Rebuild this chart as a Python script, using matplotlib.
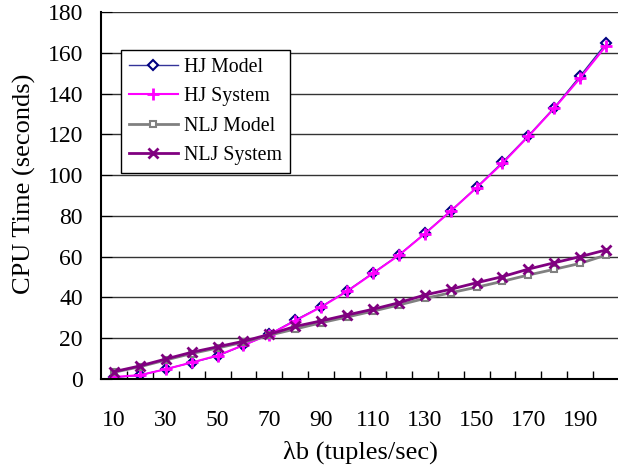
import matplotlib.pyplot as plt
import numpy as np

plt.rcParams['font.family'] = ['Liberation Serif', 'DejaVu Serif']

rate = [10, 20, 30, 40, 50, 60, 70, 80, 90, 100,
        110, 120, 130, 140, 150, 160, 170, 180, 190, 200]
hj_model = [0.8, 1.8, 4.9, 8.0, 11.3, 16.5, 21.9, 28.9, 35.5, 43.2,
            52.0, 60.8, 71.4, 82.4, 94.0, 106.3, 119.3, 133.1, 148.6, 164.6]
hj_system = [1.0, 1.9, 4.8, 8.1, 11.5, 16.6, 21.8, 28.6, 35.3, 43.0,
             51.8, 60.7, 71.2, 82.3, 93.8, 105.8, 119.0, 132.8, 147.6, 163.4]
nlj_model = [3.3, 6.0, 9.3, 12.5, 15.2, 18.0, 21.5, 24.5, 27.6, 30.4,
             33.3, 36.3, 39.5, 42.3, 45.0, 47.9, 51.0, 53.8, 56.7, 60.8]
nlj_system = [3.6, 6.4, 9.8, 13.1, 15.8, 18.5, 21.9, 25.8, 28.5, 31.4,
              34.2, 37.4, 41.2, 44.0, 47.2, 50.2, 53.9, 57.0, 60.0, 63.3]

xticks = list(range(10, 200, 20))
yticks = list(range(0, 181, 20))

fig = plt.figure(figsize=(6.18, 4.68), dpi=100)
ax = fig.add_axes([101/618, 1 - 379/468, 518/618, 367/468])

ax.plot(rate, hj_model, color='#333399', lw=1, marker='D', ms=5,
        mfc='white', mec='#000080', mew=1.5, label='HJ Model')
ax.plot(rate, hj_system, color='#ff00ff', lw=1.5, marker='+', ms=8,
        mew=2, label='HJ System')
ax.plot(rate, nlj_model, color='#808080', lw=2, marker='s', ms=5,
        mfc='white', mec='#808080', mew=1.5, label='NLJ Model')
ax.plot(rate, nlj_system, color='#800080', lw=2, marker='x', ms=7,
        mew=2, label='NLJ System')

ax.set_xlim(5, 205)
ax.set_ylim(0, 180)
ax.set_yticks(yticks)
ax.set_xticks(xticks)
ax.set_xticks(np.arange(15, 200, 10), minor=True)
ax.yaxis.grid(True, color='#333333', lw=1)
ax.set_axisbelow(True)

for s in ['top', 'right']:
    ax.spines[s].set_visible(False)
for s in ['left', 'bottom']:
    ax.spines[s].set_linewidth(1.5)

ax.tick_params(axis='y', direction='in', length=8, pad=13, labelsize=17)
ax.tick_params(axis='x', which='major', length=0, pad=22, labelsize=17)
ax.tick_params(axis='x', which='minor', direction='in', length=6, width=1)

ax.set_xlabel('λb (tuples/sec)', fontsize=19)
ax.set_ylabel('CPU Time (seconds)', fontsize=19)
ax.xaxis.set_label_coords(0.5, -0.168)
ax.yaxis.set_label_coords(-0.125, 0.533)

leg = ax.legend(loc='upper left', bbox_to_anchor=(20/518, 1 - 38/367),
                borderaxespad=0, fontsize=14.3, handlelength=2.45,
                handletextpad=0.3, labelspacing=0.52, borderpad=0.4,
                fancybox=False, framealpha=1, edgecolor='black')
leg.get_frame().set_linewidth(1)

fig.savefig('out.png', dpi=100)
